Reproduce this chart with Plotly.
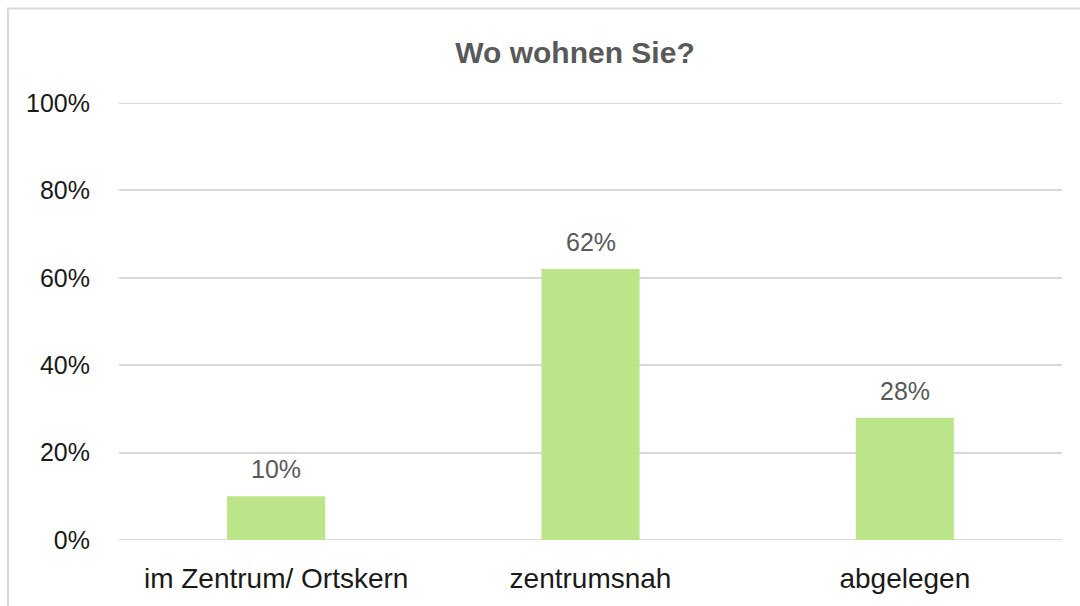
import plotly.graph_objects as go

categories = ["im Zentrum/ Ortskern", "zentrumsnah", "abgelegen"]
values = [10, 62, 28]
y_ticks = [0, 20, 40, 60, 80, 100]
y_tick_labels = ["0%", "20%", "40%", "60%", "80%", "100%"]
title_text = "Wo wohnen Sie?"

FONT = "Liberation Sans"
GRID = "#d9d9d9"
W, H = 1080, 606
L, R, T, B = 119, 18, 103, 64
pw, ph = W - L - R, H - T - B

fig = go.Figure(
    go.Bar(
        x=categories,
        y=values,
        marker=dict(color="#bbe588", line=dict(width=0)),
        width=0.312,
        hoverinfo="skip",
    )
)

annotations = [
    dict(
        x=c,
        y=v,
        xref="x",
        yref="y",
        text=f"{v}%",
        showarrow=False,
        yanchor="middle",
        yshift=27,
        font=dict(family=FONT, size=25, color="#595959"),
    )
    for c, v in zip(categories, values)
]

shapes = [
    dict(
        type="rect",
        xref="paper",
        yref="paper",
        x0=(8 - L) / pw,
        x1=(W + 20 - L) / pw,
        y0=-(B + 20) / ph,
        y1=1 + (T - 8) / ph,
        line=dict(color=GRID, width=2),
        fillcolor="rgba(0,0,0,0)",
        layer="below",
    )
]
# edge gridlines (plotly drops gridlines at the range ends)
for yv in (y_ticks[0], y_ticks[-1]):
    shapes.append(
        dict(
            type="line",
            xref="paper",
            yref="y",
            x0=0,
            x1=1,
            y0=yv,
            y1=yv,
            line=dict(color=GRID, width=2),
            layer="below",
        )
    )

fig.update_layout(
    width=W,
    height=H,
    margin=dict(l=L, r=R, t=T, b=B),
    paper_bgcolor="white",
    plot_bgcolor="white",
    showlegend=False,
    annotations=annotations,
    shapes=shapes,
    title=dict(
        text=f"<b>{title_text}</b>",
        x=575 / W,
        xanchor="center",
        y=1 - 52 / H,
        yanchor="middle",
        font=dict(family=FONT, size=30, color="#595959"),
    ),
    xaxis=dict(
        showgrid=False,
        showline=False,
        zeroline=False,
        tickfont=dict(family=FONT, size=28, color="#1a1a1a"),
        ticks="",
        ticklabelstandoff=19,
    ),
    yaxis=dict(
        range=[0, 100],
        tickvals=y_ticks,
        ticktext=y_tick_labels,
        showgrid=True,
        gridcolor=GRID,
        gridwidth=2,
        zeroline=False,
        showline=False,
        ticks="",
        ticklabelstandoff=28,
        tickfont=dict(family=FONT, size=25, color="#1a1a1a"),
    ),
)

fig.write_html(
    "out.html",
    config={"displayModeBar": False},
    post_script="document.body.style.margin='0';document.body.style.overflow='hidden';",
)
